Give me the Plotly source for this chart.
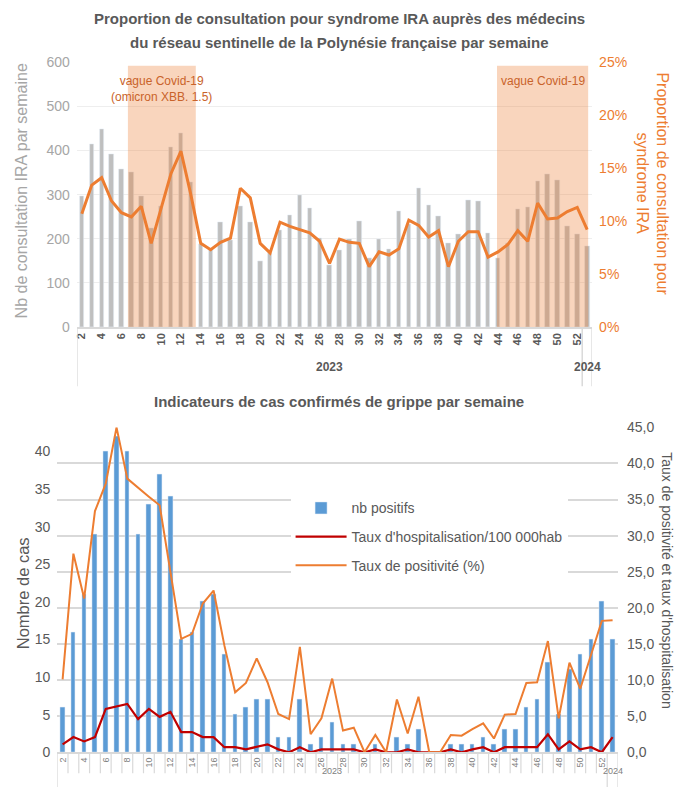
import plotly.graph_objects as go

# ---------------- data ----------------
weeks = [str(w) for w in range(2, 53)] + ["1"]
years = ["2023"] * 51 + ["2024"]

ira_counts = [296, 414, 448, 391, 358, 350, 297, 225, 273, 408, 439, 329, 188, 177, 237, 197,
              273, 237, 149, 168, 219, 254, 298, 269, 201, 140, 175, 198, 241, 157, 198, 176,
              263, 232, 315, 277, 252, 189, 211, 288, 285, 213, 155, 190, 266, 271, 330, 347,
              332, 228, 210, 183]
ira_pct = [10.7, 13.4, 14.1, 11.9, 10.8, 10.4, 11.4, 7.9, 11.2, 14.5, 16.6, 12.5, 7.9, 7.3, 8.0, 8.4,
           13.1, 12.2, 7.9, 7.0, 9.9, 9.5, 9.2, 8.9, 8.1, 6.0, 8.3, 8.0, 7.9, 5.7, 7.1, 6.8,
           7.4, 10.1, 9.6, 8.5, 9.1, 5.7, 8.1, 9.0, 9.0, 6.6, 7.1, 7.8, 9.1, 8.1, 11.7, 10.2,
           10.3, 10.9, 11.3, 9.2]

flu_pos = [6, 16, 21, 29, 40, 42, 40, 29, 33, 37, 34, 15, 16, 20, 21, 13,
           5, 6, 7, 7, 2, 2, 7, 1, 2, 4, 1, 1, 0, 1, 0, 2,
           1, 3, 0, 0, 1, 1, 1, 2, 1, 3, 3, 6, 7, 12, 5, 11,
           13, 15, 20, 15]
flu_hosp = [1.1, 2.1, 1.5, 2.1, 6.0, 6.4, 6.7, 4.6, 6.0, 4.9, 5.6, 2.8, 2.8, 2.1, 2.1, 0.7,
            0.7, 0.4, 0.7, 1.1, 0.4, 0.0, 0.7, 0.0, 0.4, 0.4, 0.4, 0.4, 0.0, 0.4, 0.0, 0.0,
            0.4, 0.0, 0.0, 0.0, 0.4, 0.0, 0.4, 0.7, 0.0, 0.7, 0.7, 0.7, 0.7, 2.5, 0.4, 1.5,
            0.4, 0.7, 0.0, 2.1]
flu_posrate = [10.1, 27.5, 21.3, 33.4, 37.2, 45.0, 37.9, 36.6, 35.4, 34.2, 24.7, 15.7, 16.4, 20.6, 22.4, 14.8,
               8.3, 9.6, 13.0, 9.7, 5.3, 4.6, 14.6, 2.5, 4.7, 10.2, 3.0, 3.4, 0.0, 2.4, 0.0, 7.3,
               2.6, 7.7, 0.0, 0.0, 2.4, 2.3, 3.2, 4.0, 1.9, 5.2, 5.3, 9.6, 9.7, 15.4, 4.7, 12.4,
               8.8, 13.5, 18.2, 18.3]

# covid waves: (start, end) in category-index units, label
covid_waves = [(4.65, 11.5, "vague Covid-19<br>(omicron XBB. 1.5)"),
               (41.9, 51.1, "vague Covid-19")]
wave_top = 592

# ---------------- layout helpers ----------------
W, H = 676, 787
# the photographed page is slightly squeezed vertically; place items accordingly
CAP_A, CAP_B = 0.98, 7.5
def fx(p):
    return p / W
def fy(p):
    return 1 - ((p - CAP_B) / CAP_A) / H

FONT = "Liberation Sans, Arial, sans-serif"
GRAY = "#595959"
ORANGE = "#ED7D31"

x = list(range(len(weeks)))
even_idx = x[::2]
even_lbl = [weeks[i] for i in even_idx]

fig = go.Figure()

# ---- top chart ----
fig.add_trace(go.Bar(x=x, y=ira_counts, marker_color="#BFBFBF", width=0.45,
                     xaxis="x", yaxis="y", showlegend=False, hoverinfo="skip"))
for x0, x1, _ in covid_waves:
    fig.add_trace(go.Scatter(x=[x0, x1, x1, x0, x0], y=[0, 0, wave_top, wave_top, 0],
                             mode="lines", fill="toself", fillcolor="rgba(237,125,49,0.32)",
                             line=dict(width=0), xaxis="x", yaxis="y",
                             showlegend=False, hoverinfo="skip"))
fig.add_trace(go.Scatter(x=x, y=[v / 100 for v in ira_pct], mode="lines",
                         line=dict(color=ORANGE, width=3), xaxis="x", yaxis="y2",
                         showlegend=False))

# ---- bottom chart ----
fig.add_trace(go.Bar(x=x, y=flu_pos, name="nb positifs", marker_color="#5B9BD5", width=0.42,
                     xaxis="x2", yaxis="y3", legendgroup="a"))
fig.add_trace(go.Scatter(x=x, y=flu_hosp, name="Taux d'hospitalisation/100 000hab", mode="lines",
                         line=dict(color="#C00000", width=2.2), xaxis="x2", yaxis="y4",
                         legendgroup="b"))
fig.add_trace(go.Scatter(x=x, y=flu_posrate, name="Taux de positivité (%)", mode="lines",
                         line=dict(color=ORANGE, width=2), xaxis="x2", yaxis="y4",
                         legendgroup="c"))

shapes = []
for xv in [-0.5, 50.5, 51.5]:
    shapes.append(dict(type="line", xref="x", yref="paper", x0=xv, x1=xv,
                       y0=fy(327), y1=fy(386), line=dict(color="#D9D9D9", width=1.5)))
for i in range(len(weeks) + 1):
    xv = i - 0.5
    long = xv in (-0.5, 50.5, 51.5)
    shapes.append(dict(type="line", xref="x2", yref="paper", x0=xv, x1=xv,
                       y0=fy(752), y1=fy(790 if long else 773),
                       line=dict(color="#D9D9D9", width=1.2)))

annotations = [
    dict(text="<b>Proportion de consultation pour syndrome IRA auprès des médecins</b>",
         x=fx(339), y=fy(18), font=dict(size=15, color=GRAY)),
    dict(text="<b>du réseau sentinelle de la Polynésie française par semaine</b>",
         x=fx(339), y=fy(42), font=dict(size=15, color=GRAY)),
    dict(text="<b>Indicateurs de cas confirmés de grippe par semaine</b>",
         x=fx(338), y=fy(401), font=dict(size=15, color=GRAY)),
    dict(text="Nb de consultation IRA par semaine", x=fx(20), y=fy(190), textangle=-90,
         font=dict(size=16, color="#A6A6A6")),
    dict(text="Proportion de consultation pour", x=fx(663), y=fy(183), textangle=90,
         font=dict(size=16, color=ORANGE)),
    dict(text="syndrome IRA", x=fx(643), y=fy(183), textangle=90,
         font=dict(size=16, color=ORANGE)),
    dict(text="Nombre de cas", x=fx(22), y=fy(593), textangle=-90,
         font=dict(size=16.5, color=GRAY)),
    dict(text="Taux de positivité et taux d'hospitalisation", x=fx(667), y=fy(580), textangle=90,
         font=dict(size=14, color=GRAY)),
]
for a in annotations:
    a.update(xref="paper", yref="paper", showarrow=False, xanchor="center", yanchor="middle")

for x0, x1, label in covid_waves:
    annotations.append(dict(text=label, xref="x", yref="paper", x=(x0 + x1) / 2, y=fy(72),
                            yanchor="top", showarrow=False,
                            font=dict(size=12, color="#C9632A")))

annotations += [
    dict(text="<b>2023</b>", xref="x", yref="paper", x=25, y=fy(367), showarrow=False,
         font=dict(size=12, color=GRAY)),
    dict(text="<b>2024</b>", xref="x", yref="paper", x=51, y=fy(367), showarrow=False,
         font=dict(size=12, color=GRAY)),
    dict(text="2023", xref="x2", yref="paper", x=25, y=fy(778), showarrow=False,
         font=dict(size=9, color="#808080")),
    dict(text="2024", xref="x2", yref="paper", x=51, y=fy(778), showarrow=False,
         font=dict(size=9, color="#808080")),
]

fig.update_layout(
    width=W, height=H, autosize=False,
    margin=dict(l=0, r=0, t=0, b=0),
    paper_bgcolor="white", plot_bgcolor="white",
    font=dict(family=FONT, color=GRAY),
    separators=", ",
    bargap=0,
    xaxis=dict(domain=[fx(76), fx(592)], range=[-0.5, 51.5], anchor="y",
               tickmode="array", tickvals=even_idx, ticktext=even_lbl, tickangle=-90,
               tickfont=dict(size=11, color=GRAY, weight="bold"), ticks="",
               showgrid=False, zeroline=False, showline=True, linecolor="#D9D9D9", linewidth=1.5),
    yaxis=dict(domain=[fy(326.7), fy(61.7)], range=[0, 600], dtick=100, anchor="x",
               showgrid=True, gridcolor="#EEEEEE", gridwidth=1.2, zeroline=False,
               tickfont=dict(size=14, color="#A6A6A6"), ticks="", ticklabelstandoff=6),
    yaxis2=dict(overlaying="y", side="right", anchor="x", range=[0, 0.25], dtick=0.05,
                tickformat=".0%", showgrid=False, zeroline=False,
                tickfont=dict(size=14, color=ORANGE), ticks="", ticklabelstandoff=6),
    xaxis2=dict(domain=[fx(56.3), fx(617.9)], range=[-0.5, 51.5], anchor="y3",
                tickmode="array", tickvals=even_idx, ticktext=even_lbl, tickangle=-90,
                tickfont=dict(size=9, color="#808080"), ticks="",
                showgrid=False, zeroline=False, showline=True, linecolor="#D9D9D9", linewidth=1.5),
    yaxis3=dict(domain=[fy(752), fy(427)], range=[0, 43.2], dtick=5, anchor="x2",
                showgrid=False, zeroline=False, tickfont=dict(size=14, color=GRAY),
                ticks="", ticklabelstandoff=6),
    yaxis4=dict(overlaying="y3", side="right", anchor="x2", range=[0, 45], dtick=5,
                tickformat=".1f", showgrid=True, gridcolor="#D9D9D9", gridwidth=1.5,
                zeroline=False, tickfont=dict(size=14, color=GRAY), ticks="",
                ticklabelstandoff=8),
    legend=dict(x=fx(290), y=fy(492), xanchor="left", yanchor="top", bgcolor="white",
                font=dict(size=14, color=GRAY), tracegroupgap=7.5, traceorder="grouped",
                borderwidth=0, itemwidth=51),
    shapes=shapes,
    annotations=annotations,
)

post = ("document.documentElement.style.margin='0px';"
        "document.body.style.margin='0px';"
        "document.body.style.padding='0px';"
        "document.body.style.overflow='hidden';"
        "var g=document.getElementById('{plot_id}');"
        "g.style.position='fixed';g.style.left='0px';g.style.top='0px';"
        "window.scrollTo(0,0);")

fig.write_html("out.html",
               config={"displayModeBar": False, "responsive": False},
               post_script=post)
